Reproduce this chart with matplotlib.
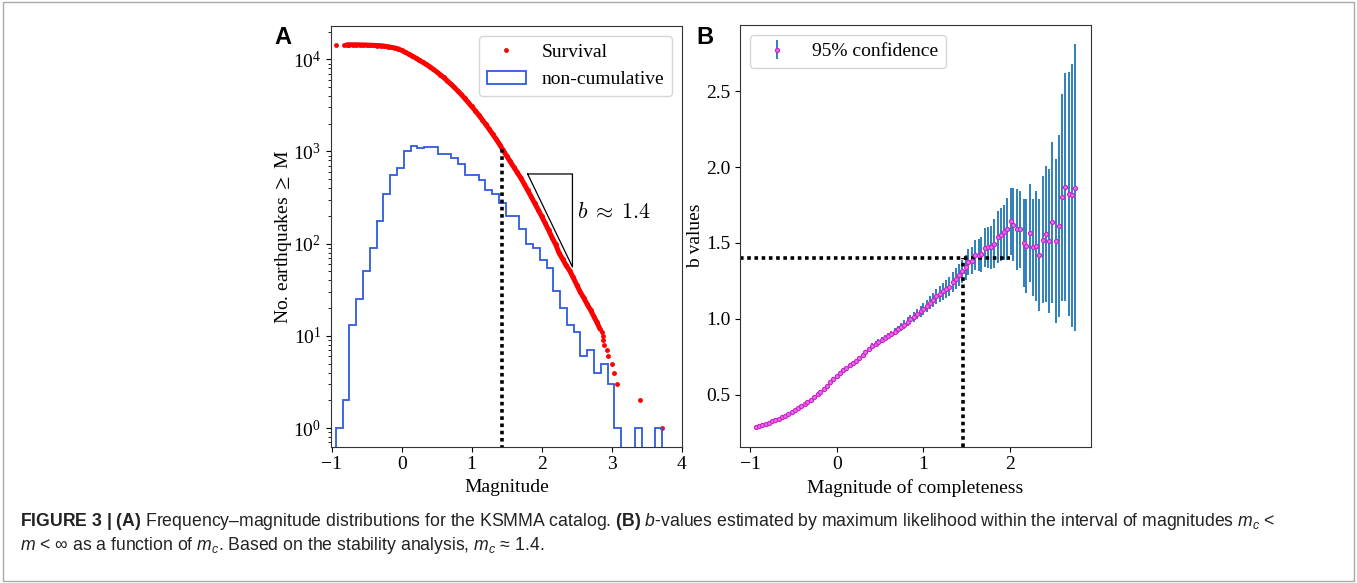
import matplotlib
matplotlib.use("Agg")
import matplotlib.pyplot as plt
import numpy as np
from matplotlib import font_manager
from matplotlib.patches import Rectangle

# ---------------- panel A: survival counts (events with magnitude >= M) ----------------
surv_mag = [-0.94, -0.83, -0.78,
            -0.75, -0.70, -0.65, -0.60, -0.55, -0.50, -0.45, -0.40, -0.35, -0.30,
            -0.25, -0.20, -0.15, -0.10, -0.05, 0.00, 0.05, 0.10, 0.15, 0.20,
            0.25, 0.30, 0.35, 0.40, 0.45, 0.50, 0.55, 0.60, 0.65, 0.70,
            0.75, 0.80, 0.85, 0.90, 0.95, 1.00, 1.05, 1.10, 1.15, 1.20,
            1.25, 1.30, 1.35, 1.40, 1.45, 1.50, 1.55, 1.60, 1.65, 1.70,
            1.75, 1.80, 1.85, 1.90, 1.95, 2.00, 2.05, 2.10, 2.15, 2.20,
            2.25, 2.30, 2.35, 2.40, 2.45, 2.50, 2.55, 2.60, 2.65, 2.70,
            2.75, 2.79, 2.83,
            2.86, 2.87, 2.88, 2.89, 2.93, 2.95, 3.01, 3.03, 3.07, 3.41, 3.72]
surv_count = [14400, 14390, 14385,
              14380, 14370, 14360, 14340, 14310, 14270, 14220, 14160, 14100, 14030,
              13900, 13710, 13490, 13270, 12970, 12470, 11940, 11400, 10860, 10330,
              9790, 9290, 8810, 8320, 7820, 7310, 6820, 6350, 5860, 5410,
              4980, 4560, 4160, 3770, 3410, 3080, 2780, 2490, 2220, 1970,
              1750, 1540, 1360, 1190, 1030, 895, 780, 680, 593, 518,
              445, 380, 324, 275, 234, 198, 167, 140, 116, 98,
              79, 68, 58, 51, 43, 36, 30, 26, 22, 19,
              16, 14, 12,
              11, 10, 9, 8, 7, 6, 5, 4, 3, 2, 1]
dense_from, dense_to = 2, 76   # densely packed part of the survival curve

# ---------------- panel A: non-cumulative counts, 48 bins from min to max magnitude ----------------
hist_lo, hist_hi = -0.94, 3.72
hist_counts = [1, 2, 13, 25, 50, 90, 176, 350, 560, 665,
               1020, 1150, 1090, 1120, 1120, 940, 940, 860, 740, 556,
               550, 495, 380, 345, 279, 202, 202, 146, 100, 89,
               66, 54, 31, 20, 13, 11, 6, 7, 4, 5,
               3, 1, 0, 0, 1, 0, 0, 1]

# ---------------- panel B: b-value vs magnitude of completeness ----------------
mc = [-0.93, -0.89, -0.86, -0.82, -0.78, -0.74, -0.71, -0.67, -0.63, -0.60,
      -0.56, -0.52, -0.48, -0.45, -0.41, -0.37, -0.34, -0.30, -0.26, -0.22,
      -0.19, -0.15, -0.11, -0.08, -0.04, 0.00, 0.04, 0.07, 0.11, 0.15,
      0.19, 0.22, 0.26, 0.30, 0.33, 0.37, 0.41, 0.45, 0.48, 0.52,
      0.56, 0.59, 0.63, 0.67, 0.71, 0.74, 0.78, 0.82, 0.85, 0.89,
      0.93, 0.97, 1.00, 1.04, 1.08, 1.11, 1.15, 1.19, 1.23, 1.26,
      1.30, 1.34, 1.38, 1.41, 1.45, 1.49, 1.52, 1.56, 1.60, 1.64,
      1.67, 1.71, 1.75, 1.78, 1.82, 1.86, 1.90, 1.93, 1.97, 2.01,
      2.04, 2.08, 2.12, 2.16, 2.19, 2.23, 2.27, 2.30, 2.34, 2.38,
      2.42, 2.45, 2.49, 2.53, 2.56, 2.60, 2.64, 2.68, 2.71, 2.75]
b_vals = [0.285, 0.293, 0.300, 0.308, 0.316, 0.325, 0.333, 0.342, 0.352, 0.362,
          0.373, 0.387, 0.401, 0.414, 0.426, 0.438, 0.449, 0.466, 0.484, 0.503,
          0.520, 0.539, 0.560, 0.581, 0.603, 0.625, 0.645, 0.662, 0.678, 0.694,
          0.709, 0.723, 0.742, 0.762, 0.781, 0.800, 0.822, 0.836, 0.848, 0.860,
          0.873, 0.886, 0.900, 0.915, 0.930, 0.945, 0.962, 0.980, 0.997, 1.014,
          1.031, 1.048, 1.065, 1.085, 1.106, 1.126, 1.147, 1.165, 1.180, 1.195,
          1.212, 1.240, 1.265, 1.290, 1.312, 1.340, 1.374, 1.383, 1.420, 1.422,
          1.425, 1.468, 1.470, 1.472, 1.495, 1.537, 1.555, 1.570, 1.590, 1.643,
          1.620, 1.590, 1.590, 1.500, 1.480, 1.566, 1.470, 1.480, 1.420, 1.520,
          1.560, 1.510, 1.636, 1.515, 1.610, 1.800, 1.870, 1.820, 1.815, 1.865]
b_err = [0.005, 0.005, 0.005, 0.005, 0.005, 0.005, 0.006, 0.006, 0.006, 0.006,
         0.006, 0.006, 0.007, 0.007, 0.007, 0.007, 0.008, 0.008, 0.008, 0.009,
         0.009, 0.009, 0.010, 0.010, 0.010, 0.011, 0.011, 0.012, 0.012, 0.013,
         0.013, 0.014, 0.014, 0.015, 0.015, 0.016, 0.017, 0.017, 0.018, 0.019,
         0.020, 0.021, 0.022, 0.023, 0.024, 0.026, 0.027, 0.029, 0.030, 0.032,
         0.034, 0.036, 0.038, 0.041, 0.044, 0.047, 0.050, 0.053, 0.056, 0.059,
         0.062, 0.066, 0.070, 0.074, 0.078, 0.082, 0.086, 0.090, 0.096, 0.104,
         0.115, 0.128, 0.135, 0.142, 0.160, 0.170, 0.176, 0.183, 0.205, 0.220,
         0.240, 0.268, 0.255, 0.290, 0.310, 0.322, 0.320, 0.365, 0.370, 0.418,
         0.448, 0.474, 0.530, 0.540, 0.600, 0.680, 0.752, 0.803, 0.866, 0.945]

mc_est_a, n_at_mc = 1.44, 1080
mc_est_b, b_est, b_line_end = 1.46, 1.40, 2.0
# slope triangle corners (magnitude, count)
tri_m = [1.80, 2.44, 2.44, 1.80]
tri_n = [570, 570, 56, 570]

plt.rcParams['font.family'] = 'serif'
plt.rcParams['font.serif'] = ['Liberation Serif', 'DejaVu Serif']
plt.rcParams['mathtext.fontset'] = 'stix'

installed = {f.name for f in font_manager.fontManager.ttflist}
cap_font = 'Liberation Sans Narrow' if 'Liberation Sans Narrow' in installed else 'Liberation Sans'
plt.rcParams['mathtext.rm'] = cap_font
plt.rcParams['mathtext.it'] = cap_font + ':italic'
plt.rcParams['mathtext.bf'] = cap_font + ':bold'

fig = plt.figure(figsize=(13.57, 5.83), dpi=100)
ax1 = fig.add_axes([0.2439, 0.2338, 0.2584, 0.7216])
ax2 = fig.add_axes([0.5453, 0.2338, 0.2584, 0.7228])

# Panel A
ax1.plot(surv_mag, surv_count, 'o', color='red', ms=3.5, mew=0, label='Survival')
ax1.plot(surv_mag[dense_from:dense_to], surv_count[dense_from:dense_to], '-',
         color='red', lw=3.6, solid_capstyle='round')
edges = np.linspace(hist_lo, hist_hi, len(hist_counts) + 1)
centers = 0.5 * (edges[1:] + edges[:-1])
ax1.hist(centers, bins=edges, weights=hist_counts, histtype='step', log=True,
         color='#2f5ae0', lw=1.3, label='non-cumulative')
ax1.plot(tri_m, tri_n, color='black', lw=0.9)
ax1.text(2.5, 215, r'$b\;\approx\;1.4$', fontsize=15.8, math_fontfamily='cm', va='center')
ax1.plot([mc_est_a, mc_est_a], [0.5, n_at_mc], color='black', lw=2.6, ls=(0, (1, 1)))
ax1.set_yscale('log')
ax1.set_xlim(-1.01, 4.0)
ax1.set_ylim(0.628, 22960)
ax1.set_xticks([-1, 0, 1, 2, 3, 4])
ax1.set_xlabel('Magnitude', fontsize=14)
ax1.set_ylabel(r'No. earthquakes $\geq$ M', fontsize=14, labelpad=-1)
ax1.legend(loc='upper right', fontsize=14)

# Panel B
ax2.errorbar(mc, b_vals, yerr=b_err, fmt='o', ms=3.0, mfc='#e070e0', mec='#d020d0', mew=0.8,
             ecolor='#1f77b4', elinewidth=1.3, label='95% confidence')
ax2.set_xlim(-1.115, 2.93)
ax2.set_ylim(0.157, 2.934)
ax2.plot([-1.115, b_line_end], [b_est, b_est], color='black', lw=2.6, ls=(0, (1, 1)))
ax2.plot([mc_est_b, mc_est_b], [0.157, b_est], color='black', lw=2.6, ls=(0, (1, 1)))
ax2.set_xticks([-1, 0, 1, 2])
ax2.set_yticks([0.5, 1.0, 1.5, 2.0, 2.5])
ax2.set_xlabel('Magnitude of completeness', fontsize=14)
ax2.set_ylabel('b values', fontsize=14, labelpad=1)
ax2.legend(loc='upper left', fontsize=14)

for ax in (ax1, ax2):
    ax.tick_params(labelsize=14)
    for s in ax.spines.values():
        s.set_color('#333333')

fig.text(283 / 1357, 1 - 37 / 583, 'A', fontsize=17, weight='bold',
         family='Liberation Sans', ha='center', va='center')
fig.text(705 / 1357, 1 - 37 / 583, 'B', fontsize=17, weight='bold',
         family='Liberation Sans', ha='center', va='center')

line1 = (r'$\mathbf{FIGURE\ 3\ |\ (A)}$ Frequency–magnitude distributions for the KSMMA catalog. '
         r'$\mathbf{(B)}$ $\mathit{b}$-values estimated by maximum likelihood within the interval '
         r'of magnitudes $m_c$ <')
line2 = r'$m$ < ∞ as a function of $m_c$. Based on the stability analysis, $m_c$ ≈ 1.4.'
for txt, yy in ((line1, 521), (line2, 546)):
    fig.text(20 / 1357, 1 - yy / 583, txt, fontsize=12.7, family=[cap_font, 'DejaVu Sans'],
             math_fontfamily='custom', color='#222222', va='center', ha='left')

fig.patches.append(Rectangle((0.002, 0.004), 0.996, 0.992, transform=fig.transFigure,
                             fill=False, ec='#aaaaaa', lw=1.0))

fig.savefig('out.png', dpi=100)
